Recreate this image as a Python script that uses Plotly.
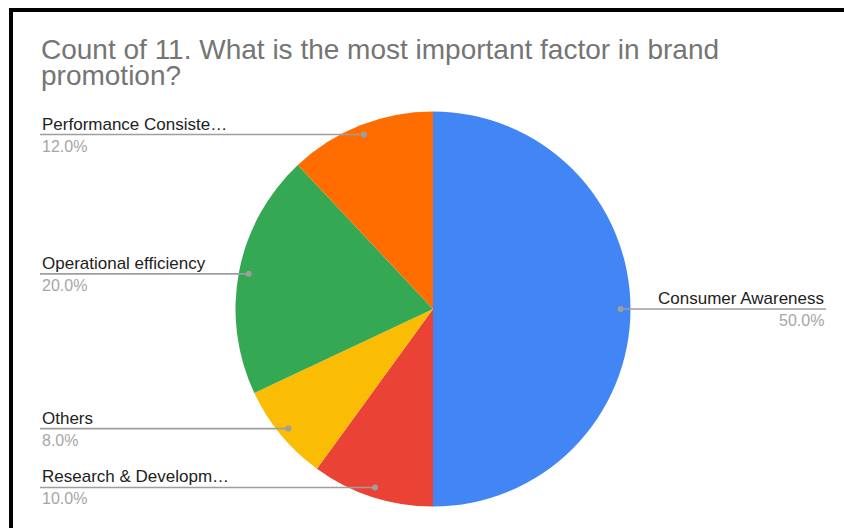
import math
import plotly.graph_objects as go

# Survey responses: "Count of 11. What is the most important factor in brand promotion?"
categories = ["Consumer Awareness", "Research & Developm\u2026", "Others",
              "Operational efficiency", "Performance Consiste\u2026"]
counts = [25, 5, 4, 10, 6]
colors = ["#4285F4", "#EA4335", "#FBBC04", "#34A853", "#FF6D01"]
title_lines = ["Count of 11. What is the most important factor in brand", "promotion?"]

W, H = 844, 528
CX, CY, R = 433, 309, 197.5          # pie centre and radius in pixels
DOT_R = 0.95 * R                      # where leader lines touch the slices
LEFT_X, RIGHT_X = 40, 826             # text columns
FONT = "Liberation Sans, Arial, sans-serif"

fig = go.Figure()

fig.add_trace(go.Pie(
    labels=categories, values=counts, sort=False, direction="clockwise",
    rotation=0, marker=dict(colors=colors, line=dict(width=0)),
    textinfo="none", hoverinfo="label+percent", showlegend=False,
    domain=dict(x=[(CX - R) / W, (CX + R) / W],
                y=[1 - (CY + R) / H, 1 - (CY - R) / H]),
))

# hidden pixel-space axes for the leader lines and labels
fig.update_xaxes(range=[0, W], visible=False, fixedrange=True)
fig.update_yaxes(range=[H, 0], visible=False, fixedrange=True)

total = sum(counts)
shapes, annotations = [], []
cum = 0
for name, v in zip(categories, counts):
    frac = v / total
    mid = (cum + frac / 2) * 2 * math.pi
    cum += frac
    dx, dy = DOT_R * math.sin(mid), -DOT_R * math.cos(mid)
    px, py = CX + dx, CY + dy
    right = dx > 0
    x_end = RIGHT_X if right else LEFT_X
    shapes.append(dict(type="line", xref="x", yref="y", x0=px, y0=py, x1=x_end, y1=py,
                       line=dict(color="#9E9E9E", width=1.6), layer="above"))
    shapes.append(dict(type="circle", xref="x", yref="y", x0=px - 3, x1=px + 3,
                       y0=py - 3, y1=py + 3, fillcolor="#9E9E9E",
                       line=dict(width=0), layer="above"))
    anchor = "right" if right else "left"
    annotations.append(dict(x=x_end, y=py + 1, xref="x", yref="y", text=name,
                            showarrow=False, xanchor=anchor, yanchor="bottom",
                            font=dict(family=FONT, size=17, color="#222222")))
    annotations.append(dict(x=x_end, y=py + 1, xref="x", yref="y",
                            text=f"{frac * 100:.1f}%", showarrow=False,
                            xanchor=anchor, yanchor="top",
                            font=dict(family=FONT, size=16, color="#A6A6A6")))

# title lines
for i, line in enumerate(title_lines):
    annotations.append(dict(x=LEFT_X - 1, y=32 + i * 26, xref="x", yref="y", text=line,
                            showarrow=False, xanchor="left", yanchor="top",
                            font=dict(family=FONT, size=28, color="#757575")))

# frame edges
shapes.append(dict(type="rect", xref="paper", yref="paper", x0=9 / W, x1=1,
                   y0=1 - 12 / H, y1=1 - 8 / H, fillcolor="black", line=dict(width=0)))
shapes.append(dict(type="rect", xref="paper", yref="paper", x0=9 / W, x1=13 / W,
                   y0=0, y1=1 - 8 / H, fillcolor="black", line=dict(width=0)))

fig.update_layout(width=W, height=H, margin=dict(l=0, r=0, t=0, b=0),
                  paper_bgcolor="white", plot_bgcolor="white",
                  shapes=shapes, annotations=annotations)

fig.write_html("out.html")
